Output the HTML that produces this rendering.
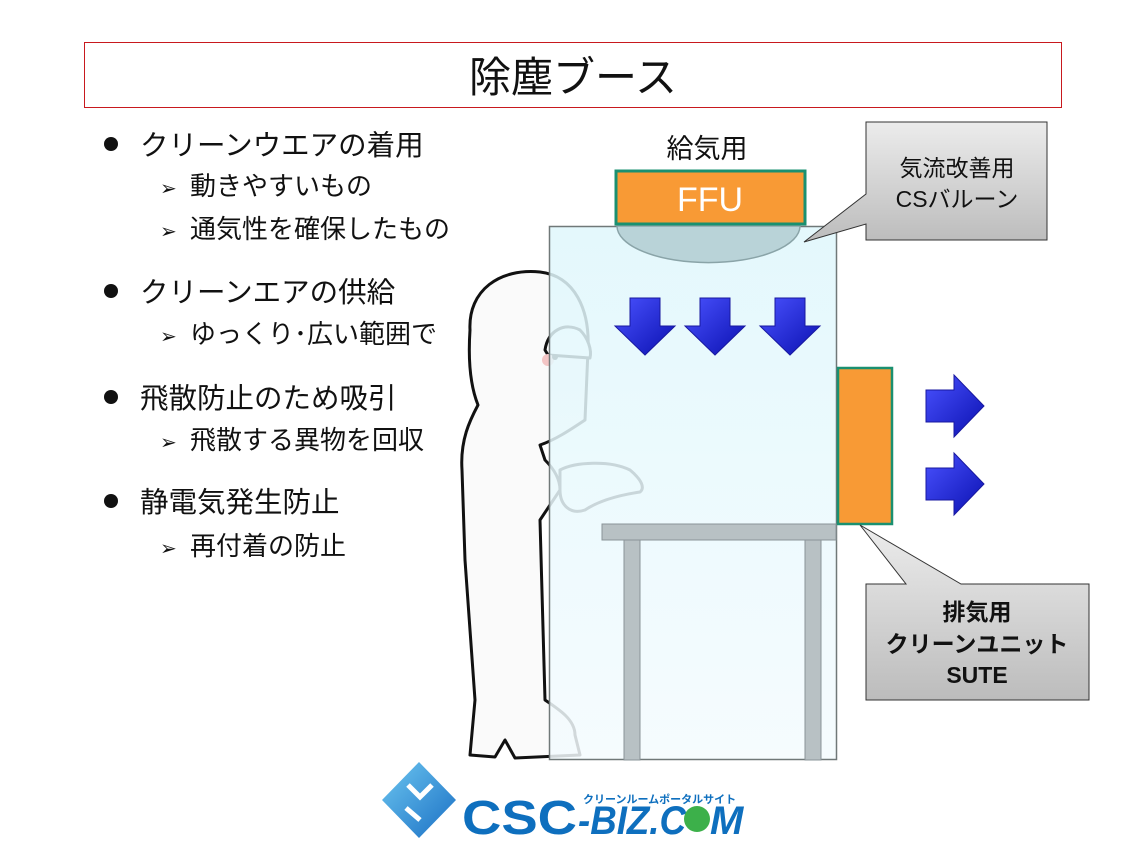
<!DOCTYPE html>
<html><head><meta charset="utf-8"><style>
body{margin:0;background:#fff;width:1145px;height:850px;overflow:hidden}
svg{display:block}
text{font-family:"Liberation Sans","Noto Sans CJK JP",sans-serif}
</style></head><body>
<svg width="1145" height="850" viewBox="0 0 1145 850" xmlns="http://www.w3.org/2000/svg">
<defs>
<linearGradient id="booth" x1="0" y1="0" x2="0" y2="1"><stop offset="0" stop-color="#dff7fc" stop-opacity="0.85"/><stop offset="1" stop-color="#f4fbfe" stop-opacity="0.85"/></linearGradient>
<linearGradient id="call" x1="0" y1="0" x2="0" y2="1"><stop offset="0" stop-color="#ececec"/><stop offset="1" stop-color="#bcbcbc"/></linearGradient>
<linearGradient id="arr" x1="0" y1="0" x2="1" y2="1"><stop offset="0" stop-color="#4a52ff"/><stop offset="1" stop-color="#0a10b0"/></linearGradient>
<linearGradient id="logo" x1="0" y1="0" x2="1" y2="1"><stop offset="0" stop-color="#6cc6f0"/><stop offset="1" stop-color="#1a6fc4"/></linearGradient>
</defs>
<rect x="84.5" y="42.5" width="977" height="65" fill="#fff" stroke="#c8191e" stroke-width="1"/>
<text x="573" y="92" font-size="42" text-anchor="middle" fill="#111">除塵ブース</text>

<g fill="#111">
<circle cx="111" cy="144" r="7"/><circle cx="111" cy="291" r="7"/><circle cx="111" cy="397" r="7"/><circle cx="111" cy="501" r="7"/>
<g font-size="28.5">
<text x="140" y="155">クリーンウエアの着用</text>
<text x="140" y="302">クリーンエアの供給</text>
<text x="140" y="408">飛散防止のため吸引</text>
<text x="140" y="512">静電気発生防止</text>
</g>
<g font-size="26">
<text x="160" y="195" font-size="20">➢</text><text x="190" y="195">動きやすいもの</text>
<text x="160" y="238" font-size="20">➢</text><text x="190" y="238">通気性を確保したもの</text>
<text x="160" y="343" font-size="20">➢</text><text x="190" y="343">ゆっくり･広い範囲で</text>
<text x="160" y="449" font-size="20">➢</text><text x="190" y="449">飛散する異物を回収</text>
<text x="160" y="555" font-size="20">➢</text><text x="190" y="555">再付着の防止</text>
</g>
</g>

<!-- person -->
<g stroke="#111" stroke-width="3" fill="#fafafa" stroke-linejoin="round">
<path d="M470 330 C468 290 500 268 540 272 C575 276 590 310 588 350 L585 420 C570 430 555 440 540 445 L545 460 C555 470 560 480 560 490 L540 520 L545 700 C560 710 575 720 575 735 L580 755 L515 758 L505 740 L495 757 L470 755 L475 700 L465 560 L462 470 C460 440 470 420 478 405 C470 385 468 360 470 330 Z"/>
<path d="M545 350 C548 330 565 322 580 330 C588 338 592 350 590 358 L548 355 Z" fill="#fff"/>
<path d="M560 470 C575 462 610 460 630 470 C642 480 645 488 640 492 C620 495 600 500 585 510 C570 515 560 505 560 490 Z" fill="#fff"/>
</g>
<circle cx="548" cy="360" r="6" fill="#f3c5c5"/>
<circle cx="555" cy="357" r="3" fill="#111"/>

<!-- booth -->
<rect x="549.5" y="226.5" width="287" height="533" fill="url(#booth)" stroke="#707878" stroke-width="1.5"/>
<path d="M617 226 A90 36 0 0 0 800 226 Z" fill="#b9d3d8" stroke="#8aa4a8" stroke-width="1.5"/>
<rect x="616" y="171" width="189" height="53" fill="#f89a35" stroke="#1a9070" stroke-width="3"/>
<text x="710" y="211" font-size="34" fill="#fff" text-anchor="middle">FFU</text>
<text x="707" y="158" font-size="27" fill="#111" text-anchor="middle">給気用</text>

<g fill="url(#arr)" stroke="#1818a0" stroke-width="1">
<path d="M630 298 h30 v28 h15 l-30 29 l-30 -29 h15 z"/>
<path d="M700 298 h30 v28 h15 l-30 29 l-30 -29 h15 z"/>
<path d="M775 298 h30 v28 h15 l-30 29 l-30 -29 h15 z"/>
<path d="M926 390 h28 v-15 l30 31 l-30 31 v-15 h-28 z"/>
<path d="M926 468 h28 v-15 l30 31 l-30 31 v-15 h-28 z"/>
</g>

<rect x="838" y="368" width="54" height="156" fill="#f89a35" stroke="#1a9070" stroke-width="2.5"/>

<rect x="602" y="524" width="234" height="16" fill="#b8c1c4" stroke="#8a9498"/>
<rect x="624" y="540" width="16" height="220" fill="#b8c1c4" stroke="#8a9498"/>
<rect x="805" y="540" width="16" height="220" fill="#b8c1c4" stroke="#8a9498"/>

<!-- callouts -->
<path d="M866 122 H1047 V240 H866 V224 L804 242 L866 194 Z" fill="url(#call)" stroke="#333" stroke-width="1"/>
<text x="957" y="176" font-size="23" text-anchor="middle" fill="#111">気流改善用</text>
<text x="957" y="207" font-size="23" text-anchor="middle" fill="#111">CSバルーン</text>
<path d="M866 584 H906 L860 525 L961 584 H1089 V700 H866 Z" fill="url(#call)" stroke="#333" stroke-width="1"/>
<g font-size="23" font-weight="bold" text-anchor="middle" fill="#111">
<text x="977" y="620">排気用</text>
<text x="977" y="652">クリーンユニット</text>
<text x="977" y="683">SUTE</text>
</g>

<!-- logo -->
<path d="M419 762 L456 800 L419 838 L382 800 Z" fill="url(#logo)"/>
<path d="M408 785 L420 797 L432 785 M406 808 L420 820" stroke="#fff" stroke-width="5" fill="none"/>
<text x="462" y="834" font-size="48" font-weight="bold" fill="#0e6fbe" textLength="115" lengthAdjust="spacingAndGlyphs">CSC</text>
<text x="578" y="834" font-size="40" font-weight="bold" font-style="italic" fill="#0e6fbe" textLength="108" lengthAdjust="spacingAndGlyphs">-BIZ.C</text>
<circle cx="697" cy="819" r="13" fill="#3cb04a"/>
<text x="710" y="834" font-size="40" font-weight="bold" font-style="italic" fill="#0e6fbe">M</text>
<text x="583" y="803" font-size="11" font-weight="bold" fill="#0e6fbe">クリーンルームポータルサイト</text>
</svg>
</body></html>
